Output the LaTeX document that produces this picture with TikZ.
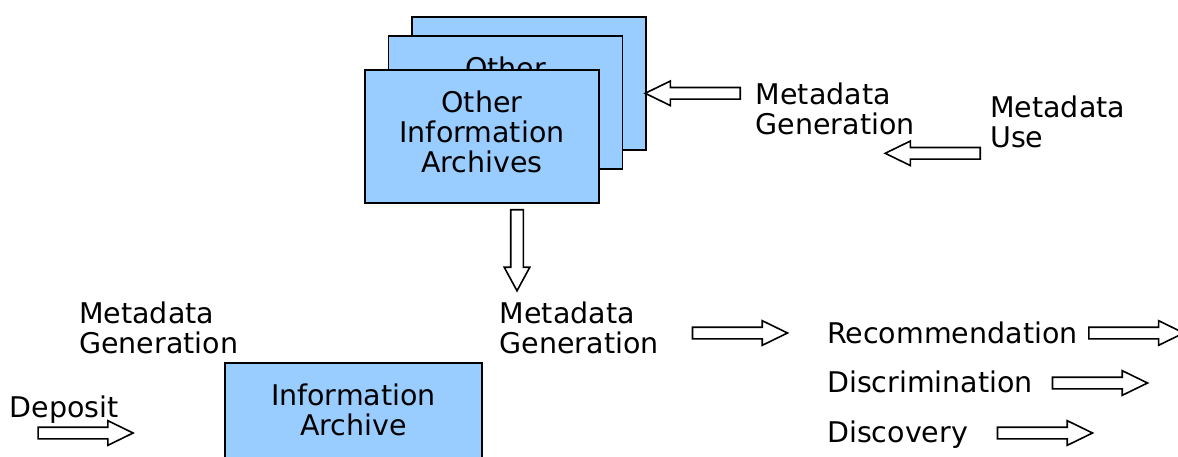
\documentclass[tikz,border=0pt]{standalone}
\usepackage{fontspec}
\setmainfont{DejaVu Sans}
\usetikzlibrary{shapes.arrows}
\definecolor{archiveblue}{HTML}{99CCFF}

\begin{document}
\begin{tikzpicture}[x=1pt,y=-1pt,
archive/.style={rectangle,draw,line width=1.6pt,fill=archiveblue,minimum width=234pt,minimum height=133pt,align=center,text depth=10.6pt},
flow/.style={single arrow,draw,line width=1.6pt,fill=white,minimum height=95pt,minimum width=23pt,inner sep=5pt,single arrow head extend=6.5pt,single arrow tip angle=52,anchor=tail},
annot/.style={align=left,inner sep=0pt,anchor=base west}]
\tikzstyle{every node}=[font=\fontsize{28.5}{30}\selectfont]
\useasboundingbox (0,0) rectangle (1178,457);
% stack of other archives
\node[archive] (Back) at (529,83.5) {};
\node[archive,text depth=70.6pt] (Middle) at (505.5,102.5) {Other};
\node[archive] (Front) at (482,136.5) {Other\\Information\\Archives};
\node[archive,minimum width=257pt,minimum height=110pt,text depth=16.2pt] (Archive) at (353.5,418) {Information\\Archive};
% labels (base = last line)
\node[annot] (TopGen) at (755.5,135) {Metadata\\Generation};
\node[annot] (Use) at (990,147.5) {Metadata\\Use};
\node[annot] (MidGen) at (499.5,353.5) {Metadata\\Generation};
\node[annot] (LeftGen) at (79,353.7) {Metadata\\Generation};
\node[annot] (Deposit) at (9.5,417) {Deposit};
\node[annot] (Rec) at (827,343) {Recommendation};
\node[annot] (Discr) at (827,392) {Discrimination};
\node[annot] (Disco) at (827,442) {Discovery};
% block arrows, placed by their tails
\node[flow,rotate=180] (GenArrow) at (741,93.3) {};
\node[flow,rotate=180] (UseArrow) at (981,153.3) {};
\node[flow,rotate=-90,minimum height=81pt,minimum width=24pt,inner sep=5.5pt,single arrow head extend=6.5pt,single arrow tip angle=57] (DownArrow) at (517,209) {};
\node[flow] (MidArrow) at (691.7,333) {};
\node[flow] (RecArrow) at (1088,333) {};
\node[flow] (DiscrArrow) at (1051.7,383) {};
\node[flow] (DiscoArrow) at (996.7,433) {};
\node[flow] (DepArrow) at (37.3,433) {};
\end{tikzpicture}
\end{document}
